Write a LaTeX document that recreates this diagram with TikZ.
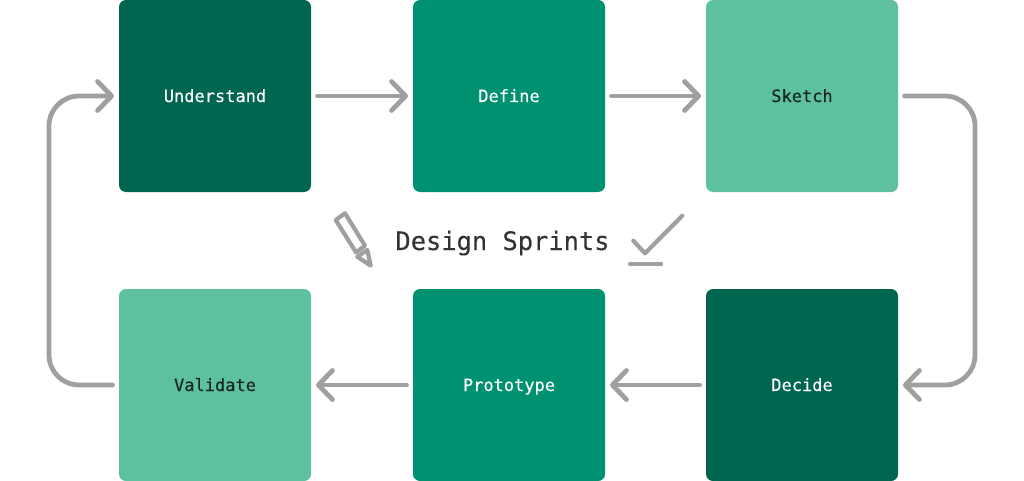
\documentclass[tikz,border=0pt]{standalone}
\usepackage{fontspec}
\setmonofont[FakeBold=0.25]{DejaVu Sans Mono}
\usetikzlibrary{arrows.meta}
\definecolor{gdark}{HTML}{00664F}
\definecolor{gmid}{HTML}{009170}
\definecolor{glight}{HTML}{5DC1A0}
\definecolor{garrow}{HTML}{A0A0A0}
\definecolor{inkdark}{HTML}{16261F}
\definecolor{inktitle}{HTML}{333333}
\tikzset{
  x=1pt,y=-1pt,
  card/.style={minimum width=192pt,minimum height=192pt,inner sep=0pt,outer sep=0pt,rounded corners=7pt,text height=14pt,text depth=2pt,font=\ttfamily\fontsize{17}{20}\selectfont},
  onDark/.style={card,text=white},
  onLight/.style={card,text=inkdark},
  flow/.style={draw=garrow,line width=4.8pt,line cap=round,line join=round,rounded corners=30pt,shorten <=6.5pt,shorten >=5pt,-{Straight Barb[length=14pt,width=29pt,round]}},
  icon/.style={draw=garrow,line width=4.2pt,line join=round,line cap=round},
}
\begin{document}
\begin{tikzpicture}
\useasboundingbox (0,0) rectangle (1024,481);
\node[onDark,fill=gdark] (understand) at (215,96) {Understand};
\node[onDark,fill=gmid] (define) at (509,96) {Define};
\node[onLight,fill=glight] (sketch) at (802,96) {Sketch};
\node[onDark,fill=gdark] (decide) at (802,385) {Decide};
\node[onDark,fill=gmid] (prototype) at (509,385) {Prototype};
\node[onLight,fill=glight] (validate) at (215,385) {Validate};
\node[font=\ttfamily\fontsize{25.4}{30}\selectfont,text=inktitle,text height=22pt,text depth=4pt] (title) at (502.5,241) {Design Sprints};
\coordinate (rightrun) at (975,240);
\coordinate (leftrun) at (49,240);
\draw[flow] (understand.east) -- (define.west);
\draw[flow] (define.east) -- (sketch.west);
\draw[flow] (sketch.east) -| (rightrun) |- (decide.east);
\draw[flow] (decide.west) -- (prototype.east);
\draw[flow] (prototype.west) -- (validate.east);
\draw[flow] (validate.west) -| (leftrun) |- (understand.west);
% pencil
\draw[icon] (335.7,220) -- (345,213.3) -- (365,245.7) -- (356,252.3) -- cycle;
\draw[icon] (357.3,256.7) -- (367.3,250) -- (370.7,265.7) -- cycle;
% check mark
\draw[icon] (633.3,240.7) -- (645,253.3) -- (682.3,215.7);
\draw[icon] (630,264) -- (661,264);
\end{tikzpicture}
\end{document}
